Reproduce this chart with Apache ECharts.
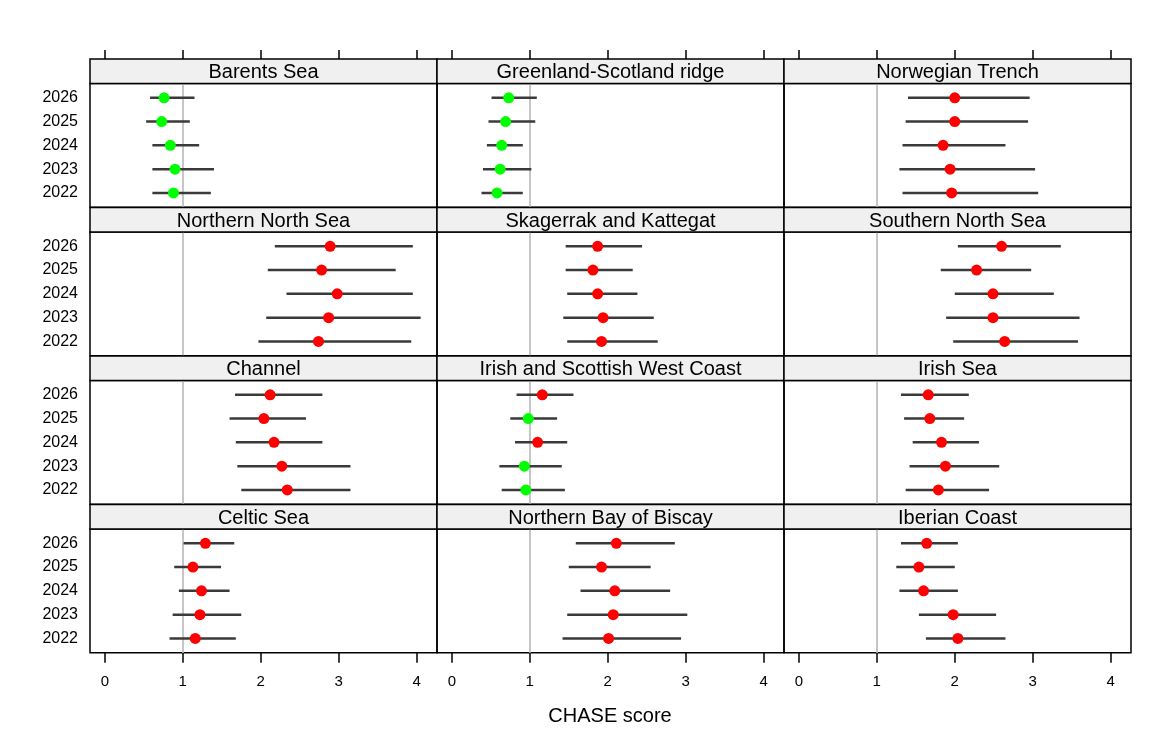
<!DOCTYPE html>
<html>
<head>
<meta charset="utf-8">
<title>CHASE score</title>
<script src="https://cdn.jsdelivr.net/npm/echarts@6/dist/echarts.min.js"></script>
<style>
  html, body { margin: 0; padding: 0; background: #fff; }
  #chart { width: 1170px; height: 753px; }
</style>
</head>
<body>
<div id="chart"></div>
<script>
// years bottom -> top, values in the same order
var years = ['2022', '2023', '2024', '2025', '2026'];
var regions = [
  'Barents Sea', 'Greenland-Scotland ridge', 'Norwegian Trench',
  'Northern North Sea', 'Skagerrak and Kattegat', 'Southern North Sea',
  'Channel', 'Irish and Scottish West Coast', 'Irish Sea',
  'Celtic Sea', 'Northern Bay of Biscay', 'Iberian Coast'
];
var score = [
  [0.88, 0.90, 0.84, 0.73, 0.76],
  [0.58, 0.62, 0.64, 0.69, 0.73],
  [1.96, 1.94, 1.85, 2.00, 2.00],
  [2.74, 2.87, 2.98, 2.78, 2.89],
  [1.92, 1.94, 1.87, 1.81, 1.87],
  [2.64, 2.49, 2.49, 2.28, 2.60],
  [2.34, 2.27, 2.17, 2.04, 2.12],
  [0.95, 0.93, 1.10, 0.98, 1.16],
  [1.79, 1.88, 1.83, 1.68, 1.66],
  [1.16, 1.22, 1.24, 1.13, 1.29],
  [2.01, 2.07, 2.09, 1.92, 2.11],
  [2.04, 1.98, 1.60, 1.54, 1.64]
];
var lower = [
  [0.61, 0.61, 0.61, 0.53, 0.58],
  [0.38, 0.40, 0.45, 0.47, 0.51],
  [1.33, 1.29, 1.33, 1.37, 1.40],
  [1.97, 2.07, 2.33, 2.09, 2.18],
  [1.48, 1.43, 1.48, 1.46, 1.46],
  [1.98, 1.89, 2.00, 1.82, 2.04],
  [1.75, 1.70, 1.68, 1.60, 1.67],
  [0.64, 0.61, 0.81, 0.75, 0.83],
  [1.37, 1.42, 1.46, 1.35, 1.31],
  [0.83, 0.87, 0.95, 0.89, 1.01],
  [1.42, 1.48, 1.65, 1.50, 1.59],
  [1.63, 1.54, 1.29, 1.25, 1.31]
];
var upper = [
  [1.36, 1.40, 1.21, 1.09, 1.15],
  [0.91, 1.02, 0.91, 1.07, 1.09],
  [3.07, 3.03, 2.65, 2.94, 2.96],
  [3.93, 4.05, 3.95, 3.73, 3.95],
  [2.64, 2.59, 2.38, 2.32, 2.44],
  [3.58, 3.60, 3.27, 2.98, 3.36],
  [3.15, 3.15, 2.79, 2.58, 2.79],
  [1.45, 1.41, 1.48, 1.35, 1.56],
  [2.44, 2.57, 2.31, 2.12, 2.18],
  [1.68, 1.75, 1.60, 1.49, 1.66],
  [2.94, 3.02, 2.80, 2.55, 2.86],
  [2.65, 2.53, 2.04, 2.00, 2.04]
];
var xTicks = [0, 1, 2, 3, 4];
var threshold = 1;

var font = '"Liberation Sans", Arial, sans-serif';
var colLeft = [90, 437, 784];
var panelW = 347;
var rowTop = [59, 207.5, 356, 504.5];   // strip tops
var stripH = 24.5;
var panelH = 123.7;
var xMin = -0.19, xMax = 4.26;

var grids = [], xAxes = [], yAxes = [], series = [], graphics = [];

regions.forEach(function (name, i) {
  var r = Math.floor(i / 3), c = i % 3;
  grids.push({
    left: colLeft[c], top: rowTop[r] + stripH, width: panelW, height: panelH,
    show: true, borderColor: '#000', borderWidth: 1.5, backgroundColor: 'transparent'
  });

  xAxes.push({
    type: 'value', gridIndex: i, min: xMin, max: xMax,
    position: 'bottom',
    show: r === 3,
    axisLine: { show: false },
    splitLine: { show: false },
    axisTick: { show: true, length: 10, lineStyle: { color: '#000', width: 1.5 }, customValues: xTicks },
    axisLabel: { show: true, customValues: xTicks, margin: 22, fontSize: 15, color: '#000', fontFamily: font }
  });

  yAxes.push({
    type: 'value', gridIndex: i, min: 0.4, max: 5.6,
    show: c === 0,
    axisLine: { show: false },
    axisTick: { show: false },
    splitLine: { show: false },
    axisLabel: {
      show: true, customValues: [1, 2, 3, 4, 5], margin: 12, fontSize: 16, color: '#000', fontFamily: font,
      formatter: function (v) { return years[Math.round(v) - 1]; }
    }
  });

  // reference line at 1
  series.push({
    type: 'scatter', xAxisIndex: i, yAxisIndex: i, data: [], z: 1, silent: true,
    markLine: {
      silent: true, symbol: 'none', animation: false, z: 1,
      label: { show: false },
      lineStyle: { color: '#c6c6c6', width: 2, type: 'solid' },
      data: [{ xAxis: threshold }]
    }
  });

  // interval bars
  series.push({
    type: 'custom', xAxisIndex: i, yAxisIndex: i, z: 2, silent: true,
    encode: { x: [0, 1], y: 2 },
    data: years.map(function (y, k) { return [lower[i][k], upper[i][k], k + 1]; }),
    renderItem: function (params, api) {
      var a = api.coord([api.value(0), api.value(2)]);
      var b = api.coord([api.value(1), api.value(2)]);
      return {
        type: 'line',
        shape: { x1: a[0], y1: a[1], x2: b[0], y2: b[1] },
        style: { stroke: '#3a3a3a', lineWidth: 2.5 }
      };
    }
  });

  // points
  series.push({
    type: 'scatter', xAxisIndex: i, yAxisIndex: i, z: 3,
    symbolSize: 11,
    data: years.map(function (y, k) { return [score[i][k], k + 1]; }),
    itemStyle: {
      opacity: 1,
      color: function (p) { return p.value[0] < threshold ? '#00ff00' : '#ff0000'; }
    }
  });

  // strip
  graphics.push({
    type: 'rect', z: 10,
    shape: { x: colLeft[c], y: rowTop[r], width: panelW, height: stripH },
    style: { fill: '#f0f0f0', stroke: '#000', lineWidth: 1.5 }
  });
  graphics.push({
    type: 'text', z: 11,
    x: colLeft[c] + panelW / 2, y: rowTop[r] + stripH / 2 + 1.5,
    style: { text: name, fill: '#000', font: '20px ' + font, textAlign: 'center', textVerticalAlign: 'middle' }
  });
});

// top tick marks over the first row
for (var c = 0; c < 3; c++) {
  xAxes.push({
    type: 'value', gridIndex: c, min: xMin, max: xMax,
    position: 'top', offset: stripH,
    axisLine: { show: false },
    splitLine: { show: false },
    axisTick: { show: true, length: 9, lineStyle: { color: '#000', width: 1.5 }, customValues: xTicks },
    axisLabel: { show: false }
  });
}

graphics.push({
  type: 'text', x: 610, y: 716,
  style: { text: 'CHASE score', fill: '#000', font: '20px ' + font, textAlign: 'center', textVerticalAlign: 'middle' }
});

var option = {
  animation: false,
  backgroundColor: '#fff',
  grid: grids,
  xAxis: xAxes,
  yAxis: yAxes,
  series: series,
  graphic: graphics
};

var myChart = echarts.init(document.getElementById('chart'));
myChart.setOption(option);
window.addEventListener('resize', function () { myChart.resize(); });
</script>
</body>
</html>
